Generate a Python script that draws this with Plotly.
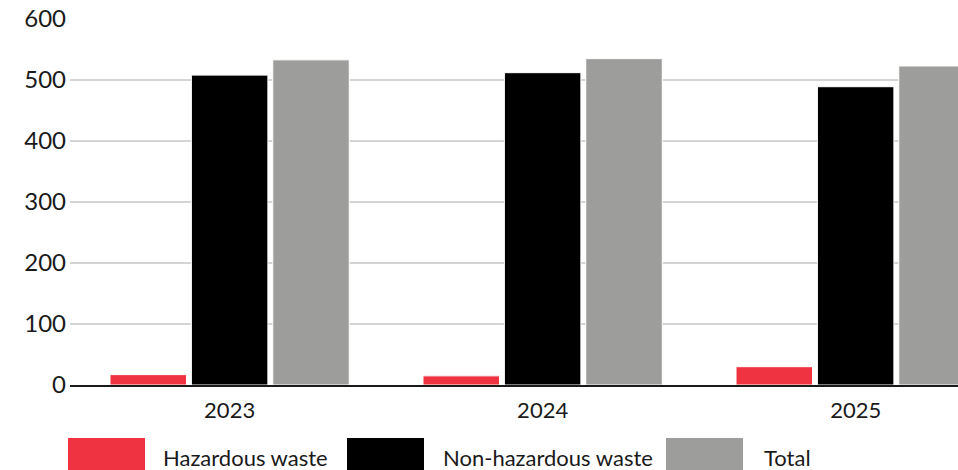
import plotly.graph_objects as go

# Waste generated per year (tonnes)
years = ["2023", "2024", "2025"]
hazardous = [17, 15, 30]
non_hazardous = [508, 512, 489]
total = [533, 535, 523]

series_names = ["Hazardous waste", "Non-hazardous waste", "Total"]
series_colors = ["#EF3340", "#000000", "#9D9D9C"]
series_values = [hazardous, non_hazardous, total]

y_ticks = [0, 100, 200, 300, 400, 500, 600]

FONT = "Lato"
TEXT = "#1a1a1a"

fig = go.Figure()
for name, color, vals in zip(series_names, series_colors, series_values):
    fig.add_trace(go.Bar(
        x=[0, 1, 2], y=vals, name=name,
        marker=dict(color=color, line=dict(color="#ffffff", width=1)),
        showlegend=False,
    ))

# Large block swatches along the bottom act as the legend
swatch_x = [68, 347, 666]
text_x = [161, 441, 762]
W, H = 958, 470
for name, color, sx, tx in zip(series_names, series_colors, swatch_x, text_x):
    fig.add_shape(type="rect", xref="paper", yref="paper",
                  x0=(sx - 70) / 888, x1=(sx + 77 - 70) / 888,
                  y0=(385 - 480) / 366, y1=(385 - 438) / 366,
                  fillcolor=color, line=dict(width=0), layer="above")
    fig.add_annotation(xref="paper", yref="paper",
                       x=(tx - 70) / 888, y=(385 - 457) / 366,
                       text=name, showarrow=False, xanchor="left", yanchor="middle",
                       font=dict(family=FONT, size=22, color=TEXT))

fig.update_layout(
    width=W, height=H,
    margin=dict(l=70, r=0, t=19, b=85),
    paper_bgcolor="white", plot_bgcolor="white",
    barmode="group", bargap=0.22, bargroupgap=0.06,
    font=dict(family=FONT, size=22, color=TEXT),
)
fig.update_xaxes(
    tickmode="array", tickvals=[0, 1, 2], ticktext=years,
    range=[-0.51, 2.327],
    showline=True, linecolor="#1a1a1a", linewidth=2,
    showgrid=False, ticks="", ticklabelstandoff=5,
)
fig.update_yaxes(
    range=[0, 600], tickvals=y_ticks,
    tickfont=dict(size=24),
    showgrid=True, gridcolor="#d4d4d4", gridwidth=2,
    zeroline=False, ticks="", ticklabelstandoff=3,
)

fig.write_html("out.html")
